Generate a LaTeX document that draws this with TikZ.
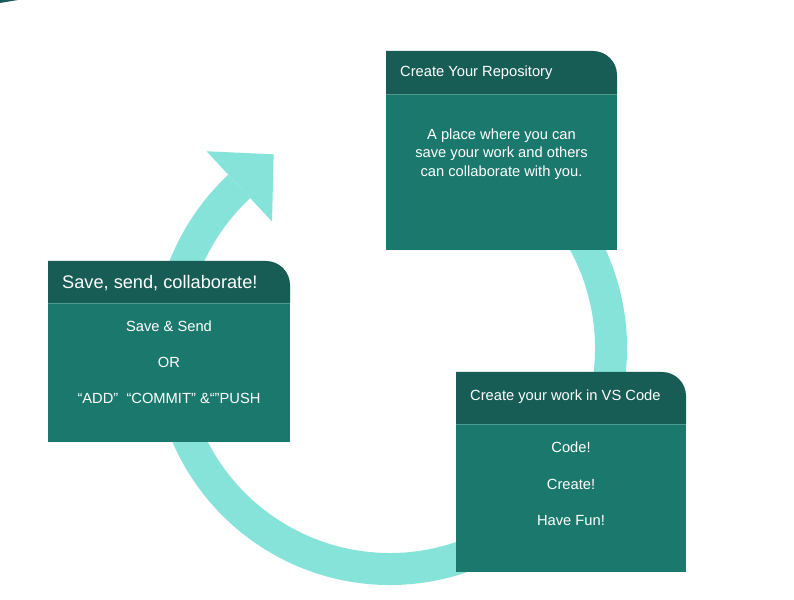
\documentclass[tikz,border=0pt]{standalone}
\usepackage{fontspec}
\setmainfont{Liberation Sans}
\usetikzlibrary{calc}
\definecolor{hdr}{HTML}{175D55}
\definecolor{bdy}{HTML}{1B786D}
\definecolor{sep}{HTML}{4C9A90}
\definecolor{ring}{HTML}{86E3D9}
\definecolor{corner}{HTML}{1B5A5A}
\tikzset{
  ringline/.style={draw=ring, line width=32pt},
  ringfill/.style={fill=ring},
  hdrtxt/.style={text=white, anchor=west, inner sep=0pt, font=\fontsize{14.7}{17}\selectfont},
  bigtxt/.style={text=white, anchor=west, inner sep=0pt, font=\fontsize{18.2}{21}\selectfont},
  bodytxt/.style={text=white, align=center, inner sep=0pt, font=\fontsize{14.7}{18.5}\selectfont},
}
\newcommand{\cardbox}[5]{% l r t hb b
  \fill[bdy] (#1,#5) rectangle (#2,#4);
  \fill[hdr] (#1,#4) -- (#1,#3) -- ({#2-24},#3) arc[start angle=90,end angle=0,radius=24] -- (#2,#4) -- cycle;
  \draw[sep, line width=0.8pt] (#1,#4) -- (#2,#4);
}
\begin{document}
\begin{tikzpicture}[x=1pt,y=1pt]
\useasboundingbox (0,0) rectangle (794,599);
\fill[white] (0,0) rectangle (794,599);
\fill[corner] (0,599) -- (18,599) -- (0,596) -- cycle;
% ring
\coordinate (C) at (390,251);
\draw[ringline] ($(C)+(60:221)$) arc[start angle=60, end angle=-227, radius=221];
\coordinate (E) at ($(C)+(133:221)$);
\fill[ringfill, shift={(E)}, rotate=43] (0,48) -- (47,0) -- (0,-48) -- cycle;
% boxes
\cardbox{386}{617}{548}{505}{349}
\cardbox{48}{290}{338}{296}{157}
\cardbox{456}{686}{227}{175}{27}
% texts
\node[hdrtxt] (h1) at (400,526) {Create Your Repository};
\node[bodytxt] (b1) at (501.5,445) {A place where you can\\save your work and others\\can collaborate with you.};
\node[bigtxt] (h2) at (62,316) {Save, send, collaborate!};
\node[bodytxt] (b2a) at (169,273) {Save \& Send};
\node[bodytxt] (b2b) at (169,237) {OR};
\node[bodytxt] (b2c) at (169,201) {“ADD”\ \ “COMMIT” \&“”PUSH};
\node[hdrtxt] (h3) at (470,202) {Create your work in VS Code};
\node[bodytxt] (b3a) at (571,152) {Code!};
\node[bodytxt] (b3b) at (571,115) {Create!};
\node[bodytxt] (b3c) at (571,78) {Have Fun!};
\end{tikzpicture}
\end{document}
